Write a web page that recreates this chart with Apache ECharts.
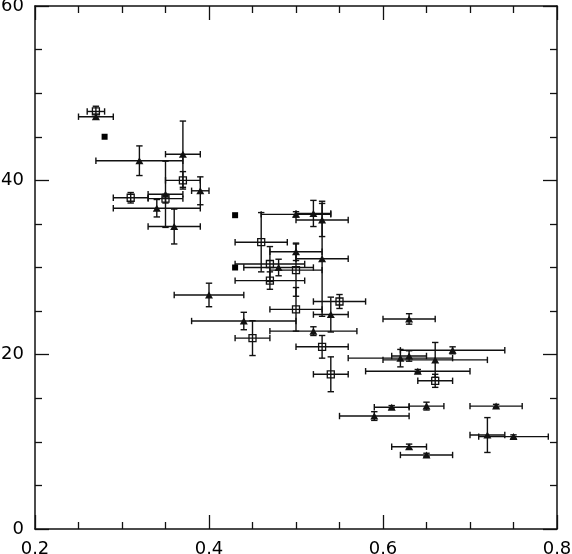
<!DOCTYPE html>
<html>
<head>
<meta charset="utf-8">
<script src="https://cdn.jsdelivr.net/npm/echarts@6/dist/echarts.min.js"></script>
<style>
    html, body { margin: 0; padding: 0; background: #fff; }
    #main { width: 572px; height: 554px; }
</style>
</head>
<body>
<div id="main"></div>
<script>
// 每一行: [x, y, x误差, y误差]
var triangles = [
    [0.27, 47.3, 0.02, 0.3],
    [0.32, 42.25, 0.05, 1.7],
    [0.37, 43.0, 0.02, 3.8],
    [0.39, 38.8, 0.01, 1.6],
    [0.35, 38.4, 0.02, 3.8],
    [0.34, 36.8, 0.05, 1.0],
    [0.36, 34.7, 0.03, 2.0],
    [0.50, 36.1, 0.04, 0.3],
    [0.52, 36.2, 0.02, 1.5],
    [0.53, 35.45, 0.03, 1.9],
    [0.53, 31.0, 0.03, 6.6],
    [0.50, 31.8, 0.03, 1.0],
    [0.48, 30.0, 0.04, 0.95],
    [0.40, 26.85, 0.04, 1.35],
    [0.44, 23.86, 0.06, 1.0],
    [0.54, 24.6, 0.02, 2.0],
    [0.52, 22.7, 0.05, 0.5],
    [0.63, 24.1, 0.03, 0.6],
    [0.68, 20.5, 0.06, 0.4],
    [0.63, 19.85, 0.02, 0.6],
    [0.62, 19.6, 0.06, 1.0],
    [0.66, 19.4, 0.06, 2.0],
    [0.64, 18.1, 0.06, 0.2],
    [0.61, 13.96, 0.02, 0.2],
    [0.65, 14.1, 0.02, 0.45],
    [0.73, 14.1, 0.03, 0.2],
    [0.59, 12.96, 0.04, 0.5],
    [0.72, 10.78, 0.02, 2.0],
    [0.75, 10.6, 0.04, 0.2],
    [0.63, 9.44, 0.02, 0.3],
    [0.65, 8.49, 0.03, 0.2]
];

var openSquares = [
    [0.27, 47.9, 0.01, 0.6],
    [0.37, 40.0, 0.02, 1.0],
    [0.31, 38.0, 0.02, 0.6],
    [0.35, 37.9, 0.02, 0.5],
    [0.46, 32.9, 0.03, 3.4],
    [0.47, 30.4, 0.04, 2.0],
    [0.47, 28.5, 0.04, 1.0],
    [0.50, 29.7, 0.03, 3.0],
    [0.50, 25.2, 0.03, 2.5],
    [0.55, 26.1, 0.03, 0.8],
    [0.53, 20.9, 0.03, 1.3],
    [0.54, 17.75, 0.02, 2.0],
    [0.45, 21.9, 0.02, 2.0],
    [0.66, 17.0, 0.02, 0.75]
];

// 没有误差棒的点
var filledSquares = [
    [0.28, 45.0],
    [0.43, 36.0],
    [0.43, 30.0]
];

var xTicks = [0.2, 0.4, 0.6, 0.8];
var yTicks = [0, 20, 40, 60];

var lineColor = '#111';

// 画误差棒
function renderErrorBar(params, api) {
    var x = api.value(0);
    var y = api.value(1);
    var dx = api.value(2);
    var dy = api.value(3);
    var left = api.coord([x - dx, y]);
    var right = api.coord([x + dx, y]);
    var top = api.coord([x, y + dy]);
    var bottom = api.coord([x, y - dy]);
    var cap = 3.2;
    var style = { stroke: lineColor, lineWidth: 1.4 };
    var lines = [
        [left[0], left[1], right[0], right[1]],
        [left[0], left[1] - cap, left[0], left[1] + cap],
        [right[0], right[1] - cap, right[0], right[1] + cap],
        [top[0], top[1], bottom[0], bottom[1]],
        [top[0] - cap, top[1], top[0] + cap, top[1]],
        [bottom[0] - cap, bottom[1], bottom[0] + cap, bottom[1]]
    ];
    var children = lines.map(function(l) {
        return {
            type: 'line',
            shape: { x1: l[0], y1: l[1], x2: l[2], y2: l[3] },
            style: style
        };
    });
    return { type: 'group', children: children };
}

function xAxisOption(position, showLabel) {
    return {
        type: 'value',
        position: position,
        min: xTicks[0],
        max: xTicks[xTicks.length - 1],
        interval: 0.2,
        axisLine: { show: true, onZero: false, lineStyle: { color: lineColor, width: 1.5 } },
        axisTick: { show: true, inside: true, length: 14, lineStyle: { color: lineColor, width: 1.3 } },
        minorTick: { show: true, splitNumber: 4, length: 7, lineStyle: { color: lineColor, width: 1.3 } },
        splitLine: { show: false },
        axisLabel: {
            show: showLabel,
            margin: 11,
            color: '#000',
            fontFamily: 'DejaVu Sans',
            fontSize: 18,
            formatter: function(v) { return v.toFixed(1); }
        }
    };
}

function yAxisOption(position, showLabel) {
    return {
        type: 'value',
        position: position,
        min: yTicks[0],
        max: yTicks[yTicks.length - 1],
        interval: 20,
        axisLine: { show: true, onZero: false, lineStyle: { color: lineColor, width: 1.5 } },
        axisTick: { show: true, inside: true, length: 14, lineStyle: { color: lineColor, width: 1.3 } },
        minorTick: { show: true, splitNumber: 4, length: 7, lineStyle: { color: lineColor, width: 1.3 } },
        splitLine: { show: false },
        axisLabel: {
            show: showLabel,
            margin: 11,
            color: '#000',
            fontFamily: 'DejaVu Sans',
            fontSize: 18
        }
    };
}

var option = {
    animation: false,
    backgroundColor: '#fff',
    grid: {
        left: 35,
        right: 15,
        top: 6,
        bottom: 25,
        containLabel: false,
        outerBoundsMode: 'none'
    },
    xAxis: [xAxisOption('bottom', true), xAxisOption('top', false)],
    yAxis: [yAxisOption('left', true), yAxisOption('right', false)],
    series: [
        {
            type: 'custom',
            renderItem: renderErrorBar,
            data: triangles,
            encode: { x: 0, y: 1 },
            z: 1
        },
        {
            type: 'custom',
            renderItem: renderErrorBar,
            data: openSquares,
            encode: { x: 0, y: 1 },
            z: 1
        },
        {
            type: 'scatter',
            data: triangles.map(function(d) { return [d[0], d[1]]; }),
            symbol: 'triangle',
            symbolSize: [8, 7],
            itemStyle: { color: '#111', opacity: 1 },
            z: 3
        },
        {
            type: 'scatter',
            data: openSquares.map(function(d) { return [d[0], d[1]]; }),
            symbol: 'rect',
            symbolSize: 7,
            itemStyle: { color: 'transparent', borderColor: '#111', borderWidth: 1.3, opacity: 1 },
            z: 3
        },
        {
            type: 'scatter',
            data: filledSquares,
            symbol: 'rect',
            symbolSize: 6,
            itemStyle: { color: '#000', opacity: 1 },
            z: 3
        }
    ]
};

var myChart = echarts.init(document.getElementById('main'));
myChart.setOption(option);
</script>
</body>
</html>
